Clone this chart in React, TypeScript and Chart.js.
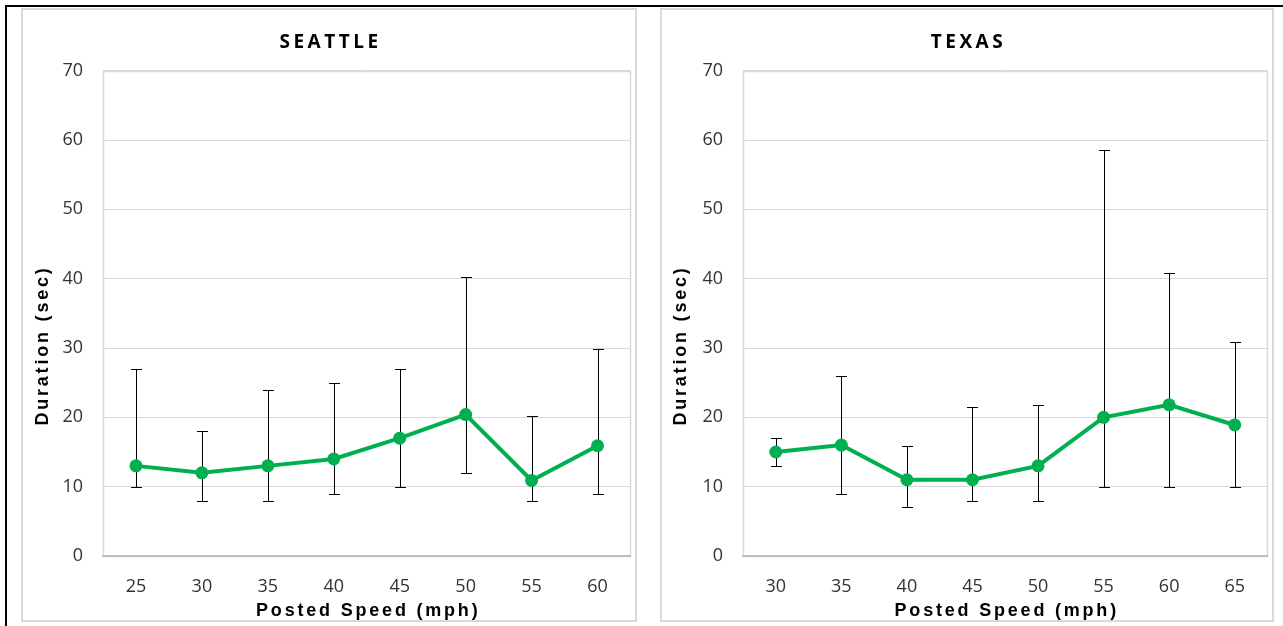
import React, { useEffect, useRef } from "react";
import { Chart, registerables } from "chart.js";

Chart.register(...registerables);

// ---- data ----
const seattleSpeeds = ["25", "30", "35", "40", "45", "50", "55", "60"];
const seattleMeans = [13, 12, 13, 14, 17, 20.4, 10.9, 15.9];
const seattleLow = [10, 8, 8, 9, 10, 12, 8, 8.9];
const seattleHigh = [27, 18, 24, 25, 27, 40.2, 20.2, 29.9];

const texasSpeeds = ["30", "35", "40", "45", "50", "55", "60", "65"];
const texasMeans = [15, 16, 11, 11, 13, 20, 21.8, 18.9];
const texasLow = [13, 9, 7, 8, 8, 9.9, 10, 10];
const texasHigh = [17, 26, 15.8, 21.5, 21.8, 58.5, 40.8, 30.8];

const yMin = 0;
const yMax = 70;
const yStep = 10;

const xAxisTitle = "Posted Speed (mph)";
const yAxisTitle = "Duration (sec)";

type PanelProps = {
  title: string;
  labels: string[];
  means: number[];
  low: number[];
  high: number[];
  left: number;
  top: number;
  width: number;
  height: number;
  plotLeft: number;
  plotRight: number;
  yTitleX: number;
};

const GREEN = "#00b050";
const TICK_FONT = { family: "'Open Sans', sans-serif", size: 18 };
const TICK_COLOR = "#333333";

function Panel(p: PanelProps) {
  const ref = useRef<HTMLCanvasElement | null>(null);
  useEffect(() => {
    if (!ref.current) return;
    const plotTop = 62.7;
    const plotBottom = 548;
    const xHeight = 40;

    const errorBars = {
      id: "errorBars",
      beforeDatasetsDraw(chart: any) {
        const ctx = chart.ctx;
        const xs = chart.scales.x;
        const ys = chart.scales.y;
        ctx.save();
        ctx.strokeStyle = "#000";
        ctx.lineWidth = 1;
        p.means.forEach((_, i) => {
          const x = Math.round(xs.getPixelForValue(i)) + 0.5;
          const yh = Math.round(ys.getPixelForValue(p.high[i])) + 0.5;
          const yl = Math.round(ys.getPixelForValue(p.low[i])) + 0.5;
          ctx.beginPath();
          ctx.moveTo(x, yh);
          ctx.lineTo(x, yl);
          ctx.moveTo(x - 5.5, yh);
          ctx.lineTo(x + 5.5, yh);
          ctx.moveTo(x - 5.5, yl);
          ctx.lineTo(x + 5.5, yl);
          ctx.stroke();
        });
        ctx.restore();
      },
    };

    const frameAndText = {
      id: "frameAndText",
      beforeDraw(chart: any) {
        const ctx = chart.ctx;
        const a = chart.chartArea;
        ctx.save();
        ctx.strokeStyle = "#d9d9d9";
        ctx.lineWidth = 1.5;
        ctx.strokeRect(Math.round(a.left) + 0.5, Math.round(a.top) + 0.5, Math.round(a.right - a.left) - 1, Math.round(a.bottom - a.top));
        ctx.restore();
      },
      afterDraw(chart: any) {
        const ctx = chart.ctx;
        const a = chart.chartArea;
        ctx.save();
        ctx.fillStyle = "#000";
        ctx.textAlign = "center";
        ctx.textBaseline = "middle";
        // chart title
        ctx.font = "700 19px 'Open Sans', sans-serif";
        (ctx as any).letterSpacing = "3.5px";
        ctx.fillText(p.title, chart.width / 2 + 1.5, 35);
        // x title
        ctx.font = "700 18px 'Liberation Sans', Arial, sans-serif";
        (ctx as any).letterSpacing = "2.8px";
        ctx.fillText(xAxisTitle, (a.left + a.right) / 2 + 1.5, 603);
        // y title
        ctx.translate(p.yTitleX, 339);
        ctx.rotate(-Math.PI / 2);
        ctx.fillText(yAxisTitle, 1.5, 0);
        ctx.restore();
      },
    };

    const chart = new Chart(ref.current, {
      type: "line",
      data: {
        labels: p.labels,
        datasets: [
          {
            data: p.means,
            borderColor: GREEN,
            backgroundColor: GREEN,
            borderWidth: 4,
            pointRadius: 6.5,
            pointHoverRadius: 6.5,
            pointBackgroundColor: GREEN,
            pointBorderColor: GREEN,
            pointBorderWidth: 0,
            tension: 0,
          },
        ],
      },
      options: {
        responsive: false,
        animation: false,
        devicePixelRatio: 1,
        layout: {
          padding: {
            top: plotTop,
            left: 0,
            right: p.width - p.plotRight,
            bottom: p.height - plotBottom - xHeight,
          },
        },
        plugins: {
          legend: { display: false },
          tooltip: { enabled: false },
          title: { display: false },
        },
        scales: {
          x: {
            type: "category",
            offset: true,
            grid: { display: false, drawTicks: false },
            border: { display: true, color: "#bfbfbf", width: 2 },
            ticks: { font: TICK_FONT, color: TICK_COLOR, padding: 20, maxRotation: 0 },
            afterFit: (s: any) => {
              s.height = xHeight;
            },
          },
          y: {
            min: yMin,
            max: yMax,
            ticks: { stepSize: yStep, font: TICK_FONT, color: TICK_COLOR, padding: 20 },
            grid: { color: "#d9d9d9", lineWidth: 1, drawTicks: false },
            border: { display: false },
            afterFit: (s: any) => {
              s.width = p.plotLeft;
            },
          },
        },
      },
      plugins: [errorBars, frameAndText],
    });
    return () => chart.destroy();
  }, []);

  return (
    <>
      <div
        style={{
          position: "absolute",
          left: p.left,
          top: p.top,
          width: p.width,
          height: p.height,
          border: "2px solid #d9d9d9",
          boxSizing: "border-box",
        }}
      />
      <canvas
        ref={ref}
        width={p.width}
        height={p.height}
        style={{ position: "absolute", left: p.left, top: p.top, width: p.width, height: p.height }}
      />
    </>
  );
}

export default function App() {
  return (
    <div
      style={{
        position: "fixed",
        left: 0,
        top: 0,
        width: 1283,
        height: 626,
        background: "#fff",
        overflow: "hidden",
      }}
    >
      <div style={{ position: "absolute", left: 5, top: 5, width: 1278, height: 2, background: "#000" }} />
      <div style={{ position: "absolute", left: 5, top: 5, width: 2, height: 621, background: "#000" }} />
      <Panel
        title="SEATTLE"
        labels={seattleSpeeds}
        means={seattleMeans}
        low={seattleLow}
        high={seattleHigh}
        left={21}
        top={8}
        width={616}
        height={614}
        plotLeft={82}
        plotRight={609.5}
        yTitleX={22.5}
      />
      <Panel
        title="TEXAS"
        labels={texasSpeeds}
        means={texasMeans}
        low={texasLow}
        high={texasHigh}
        left={660}
        top={8}
        width={614}
        height={614}
        plotLeft={83}
        plotRight={608.3}
        yTitleX={21.5}
      />
    </div>
  );
}
